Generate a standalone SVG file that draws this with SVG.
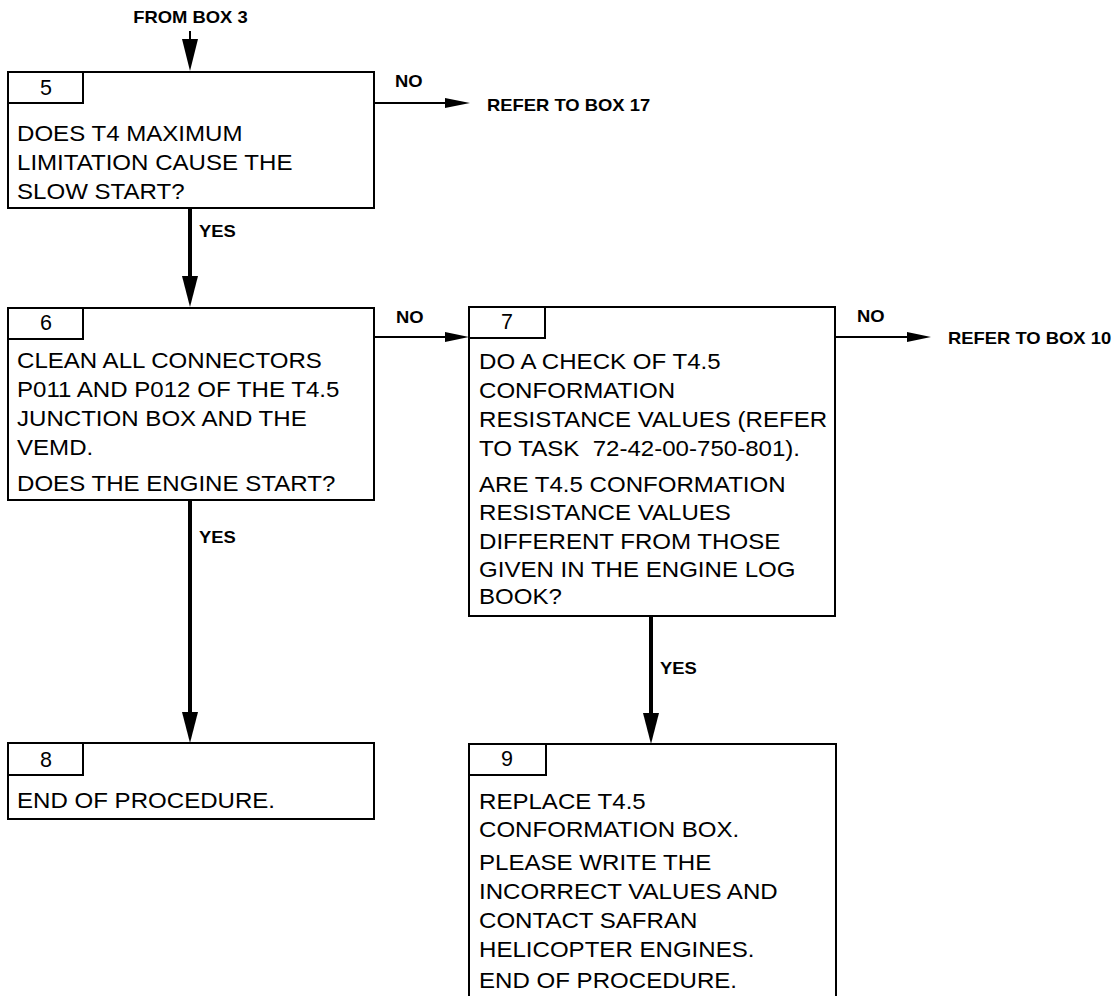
<svg xmlns="http://www.w3.org/2000/svg" width="1116" height="996" viewBox="0 0 1116 996">
<style>
.box{fill:#fff;stroke:#000;stroke-width:2}
.tab{fill:none;stroke:#000;stroke-width:2}
.t{font-family:"Liberation Sans",Arial,sans-serif;font-size:21.5px;fill:#000}
.num{font-family:"Liberation Sans",Arial,sans-serif;font-size:21.5px;fill:#000;text-anchor:middle}
.lbl{font-family:"Liberation Sans",Arial,sans-serif;font-size:16px;font-weight:bold;fill:#000}
.thin{stroke:#000;stroke-width:2;fill:none}
.thick{stroke:#000;stroke-width:4;fill:none}
.head{fill:#000;stroke:none}
</style>
<rect width="1116" height="996" fill="#fff"/>
<g id="connectors">
  <line class="thin" x1="190" y1="31" x2="190" y2="42"/>
  <polygon class="head" points="182,39 198,39 190,71"/>
  <g transform="translate(190.5,23) scale(1.15,1)"><text class="lbl" text-anchor="middle">FROM BOX 3</text></g>

  <line class="thin" x1="374" y1="103" x2="448" y2="103"/>
  <polygon class="head" points="445,98 445,108 470,103"/>
  <g transform="translate(395,87) scale(1.15,1)"><text class="lbl">NO</text></g>
  <g transform="translate(487,111) scale(1.15,1)"><text class="lbl">REFER TO BOX 17</text></g>

  <line class="thick" x1="190" y1="208" x2="190" y2="280"/>
  <polygon class="head" points="182,276 198,276 190,307"/>
  <g transform="translate(199,237) scale(1.15,1)"><text class="lbl">YES</text></g>

  <line class="thin" x1="374" y1="337" x2="448" y2="337"/>
  <polygon class="head" points="445,332 445,342 469,337"/>
  <g transform="translate(396,323) scale(1.15,1)"><text class="lbl">NO</text></g>

  <line class="thin" x1="835" y1="337" x2="910" y2="337"/>
  <polygon class="head" points="907,332 907,342 931,337"/>
  <g transform="translate(857,322) scale(1.15,1)"><text class="lbl">NO</text></g>
  <g transform="translate(948,344) scale(1.15,1)"><text class="lbl">REFER TO BOX 10</text></g>

  <line class="thick" x1="190" y1="500" x2="190" y2="716"/>
  <polygon class="head" points="182,712 198,712 190,743"/>
  <g transform="translate(199,543) scale(1.15,1)"><text class="lbl">YES</text></g>

  <line class="thick" x1="651" y1="616" x2="651" y2="717"/>
  <polygon class="head" points="643,713 659,713 651,744"/>
  <g transform="translate(660,674) scale(1.15,1)"><text class="lbl">YES</text></g>
</g>

<g id="box5">
  <rect class="box" x="8" y="72" width="366" height="136"/>
  <rect class="tab" x="8" y="72" width="75" height="31"/>
  <text class="num" x="46" y="95">5</text>
  <g transform="translate(17,0) scale(1.12,1)">
    <text class="t" y="141">DOES T4 MAXIMUM</text>
    <text class="t" y="170">LIMITATION CAUSE THE</text>
    <text class="t" y="199">SLOW START?</text>
  </g>
</g>

<g id="box6">
  <rect class="box" x="8" y="308" width="366" height="192"/>
  <rect class="tab" x="8" y="308" width="75" height="31"/>
  <text class="num" x="46" y="330">6</text>
  <g transform="translate(17,0) scale(1.12,1)">
    <text class="t" y="368">CLEAN ALL CONNECTORS</text>
    <text class="t" y="397">P011 AND P012 OF THE T4.5</text>
    <text class="t" y="426">JUNCTION BOX AND THE</text>
    <text class="t" y="455">VEMD.</text>
    <text class="t" y="491">DOES THE ENGINE START?</text>
  </g>
</g>

<g id="box7">
  <rect class="box" x="469" y="307" width="366" height="309"/>
  <rect class="tab" x="469" y="307" width="76" height="31"/>
  <text class="num" x="507" y="329">7</text>
  <g transform="translate(479,0) scale(1.12,1)">
    <text class="t" y="369">DO A CHECK OF T4.5</text>
    <text class="t" y="398">CONFORMATION</text>
    <text class="t" y="427">RESISTANCE VALUES (REFER</text>
    <text class="t" y="456" xml:space="preserve">TO TASK  72-42-00-750-801).</text>
    <text class="t" y="492">ARE T4.5 CONFORMATION</text>
    <text class="t" y="520">RESISTANCE VALUES</text>
    <text class="t" y="549">DIFFERENT FROM THOSE</text>
    <text class="t" y="577">GIVEN IN THE ENGINE LOG</text>
    <text class="t" y="604">BOOK?</text>
  </g>
</g>

<g id="box8">
  <rect class="box" x="8" y="743" width="366" height="76"/>
  <rect class="tab" x="8" y="743" width="75" height="32"/>
  <text class="num" x="46" y="767">8</text>
  <g transform="translate(17,0) scale(1.12,1)">
    <text class="t" y="808">END OF PROCEDURE.</text>
  </g>
</g>

<g id="box9">
  <rect class="box" x="469" y="744" width="367" height="270"/>
  <rect class="tab" x="469" y="744" width="77" height="31"/>
  <text class="num" x="507" y="766">9</text>
  <g transform="translate(479,0) scale(1.12,1)">
    <text class="t" y="809">REPLACE T4.5</text>
    <text class="t" y="837">CONFORMATION BOX.</text>
    <text class="t" y="870">PLEASE WRITE THE</text>
    <text class="t" y="899">INCORRECT VALUES AND</text>
    <text class="t" y="928">CONTACT SAFRAN</text>
    <text class="t" y="957">HELICOPTER ENGINES.</text>
    <text class="t" y="988">END OF PROCEDURE.</text>
  </g>
</g>
</svg>
